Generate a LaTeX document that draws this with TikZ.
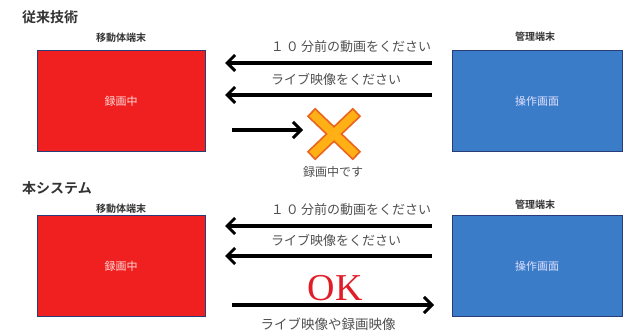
\documentclass[tikz,border=0pt]{standalone}
\usepackage{fontspec}
\usetikzlibrary{arrows.meta}
\newfontfamily\jp{Noto Sans CJK JP}[BoldFont={Noto Sans CJK JP Bold}]
\setmainfont{Liberation Serif}
\definecolor{boxred}{RGB}{240,32,32}
\definecolor{boxblue}{RGB}{58,124,200}
\definecolor{edgeblue}{RGB}{40,60,120}
\definecolor{msggray}{RGB}{80,80,80}
\definecolor{xorange}{RGB}{255,176,20}
\definecolor{xedge}{RGB}{235,100,30}
\definecolor{okred}{RGB}{225,30,40}
\begin{document}
\begin{tikzpicture}[x=1pt,y=-1pt,
  redbox/.style={draw=edgeblue,line width=0.8pt,fill=boxred,minimum width=168pt,minimum height=101pt,inner sep=0pt,text=red!15,font=\jp\fontsize{11}{11}\selectfont},
  bluebox/.style={draw=edgeblue,line width=0.8pt,fill=boxblue,minimum width=170pt,minimum height=101pt,inner sep=0pt,text=blue!12,font=\jp\fontsize{11}{11}\selectfont},
  title/.style={font=\jp\bfseries\fontsize{14}{14}\selectfont,text=black!80,inner sep=0pt},
  devlabel/.style={font=\jp\bfseries\fontsize{10}{10}\selectfont,text=black!80,inner sep=0pt},
  msg/.style={font=\jp\fontsize{13}{13}\selectfont,text=msggray,inner sep=0pt},
  msgarrow/.style={line width=3.2pt,-{Straight Barb[length=8pt,width=16pt,line width=3pt]}}
]
\useasboundingbox (0,0) rectangle (636,336);
\fill[white] (0,0) rectangle (636,336);

% ---------- top: conventional ----------
\node[title,anchor=west] (t1) at (22,17) {従来技術};
\node[redbox] (r1) at (121,101) {録画中};
\node[bluebox] (b1) at (537,101) {操作画面};
\node[devlabel] (r1l) at (121,38) {移動体端末};
\node[devlabel] (b1l) at (535,37) {管理端末};

\coordinate (a1s) at (432,63);  \coordinate (a1e) at (225,63);
\coordinate (a2s) at (432,95);  \coordinate (a2e) at (225,95);
\coordinate (a3s) at (232,130); \coordinate (a3e) at (303,130);
\draw[msgarrow] (a1s) -- (a1e);
\draw[msgarrow] (a2s) -- (a2e);
\draw[msgarrow] (a3s) -- (a3e);
\node[msg] (m1) at (351,47) {１\,０\,分前の動画をください};
\node[msg] (m2) at (336,79) {ライブ映像をください};

\coordinate (xa) at (311,112); \coordinate (xb) at (357,156);
\coordinate (xc) at (357,112); \coordinate (xd) at (311,156);
\draw[xedge,line width=12pt] (xa) -- (xb);
\draw[xedge,line width=12pt] (xc) -- (xd);
\draw[xorange,line width=8.5pt,shorten <=1.8pt,shorten >=1.8pt] (xa) -- (xb);
\draw[xorange,line width=8.5pt,shorten <=1.8pt,shorten >=1.8pt] (xc) -- (xd);
\node[msg,font=\jp\fontsize{12}{12}\selectfont] (m3) at (333,172) {録画中です};

% ---------- bottom: this system ----------
\node[title,anchor=west] (t2) at (22,188) {本システム};
\node[redbox] (r2) at (121,266) {録画中};
\node[bluebox] (b2) at (537,266) {操作画面};
\node[devlabel] (r2l) at (121,209) {移動体端末};
\node[devlabel] (b2l) at (535,205) {管理端末};

\coordinate (c1s) at (432,226); \coordinate (c1e) at (225,226);
\coordinate (c2s) at (432,256); \coordinate (c2e) at (225,256);
\coordinate (c3s) at (232,305); \coordinate (c3e) at (434,305);
\draw[msgarrow] (c1s) -- (c1e);
\draw[msgarrow] (c2s) -- (c2e);
\draw[msgarrow] (c3s) -- (c3e);
\node[msg] (n1) at (351,210) {１\,０\,分前の動画をください};
\node[msg] (n2) at (336,240) {ライブ映像をください};
\node[font=\fontsize{38}{38}\selectfont,text=okred,inner sep=0pt] (ok) at (335,288) {OK};
\node[msg,font=\jp\fontsize{13.5}{13.5}\selectfont] (n3) at (328,324) {ライブ映像や録画映像};
\end{tikzpicture}
\end{document}
